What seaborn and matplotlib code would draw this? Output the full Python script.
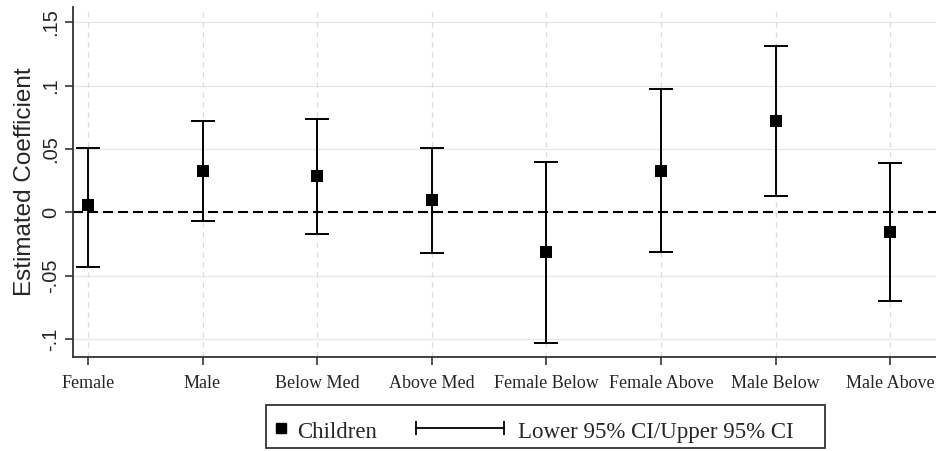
import matplotlib
matplotlib.use("Agg")
import matplotlib.pyplot as plt
import seaborn as sns
import pandas as pd
import numpy as np
from matplotlib.lines import Line2D
from matplotlib.patches import Rectangle

categories = ["Female", "Male", "Below Med", "Above Med", "Female Below",
              "Female Above", "Male Below", "Male Above"]
estimates = [0.0055, 0.033, 0.029, 0.010, -0.031, 0.033, 0.072, -0.0155]
lower_ci = [-0.043, -0.007, -0.017, -0.032, -0.103, -0.031, 0.013, -0.070]
upper_ci = [0.051, 0.072, 0.074, 0.051, 0.040, 0.097, 0.131, 0.039]
ytick_vals = [-0.1, -0.05, 0, 0.05, 0.1, 0.15]
ytick_labels = ["-.1", "-.05", "0", ".05", ".1", ".15"]
legend_labels = ["Children", "Lower 95% CI/Upper 95% CI"]

df = pd.DataFrame({"pos": np.arange(1, len(categories) + 1),
                   "cat": categories, "est": estimates,
                   "lo": lower_ci, "hi": upper_ci})

sns.set_style("white")
plt.rcParams["font.family"] = ["Liberation Sans", "DejaVu Sans"]
SERIF = ["Liberation Serif", "DejaVu Serif"]

fig = plt.figure(figsize=(9.36, 4.51), dpi=100)
ax = fig.add_axes([0.078, 0.2084, 0.922, 0.776])

ax.set_xlim(0.87, 8.40)
ax.set_ylim(-0.114, 0.162)

# grid
for v in ytick_vals:
    ax.axhline(v, color="#e6e6e6", lw=1.0, zorder=0)
for p in df["pos"]:
    ax.axvline(p, color="#d9d9d9", lw=0.9, ls=(0, (4, 4)), zorder=0)

ax.axhline(0, color="black", lw=1.5, ls=(0, (4.8, 2.4)), zorder=1)

ax.errorbar(df["pos"], df["est"],
            yerr=[df["est"] - df["lo"], df["hi"] - df["est"]],
            fmt="none", ecolor="black", elinewidth=1.4, capsize=8.5,
            capthick=1.4, zorder=2)
sns.scatterplot(data=df, x="pos", y="est", marker="s", s=70, color="black",
                edgecolor="black", linewidth=0, ax=ax, zorder=3, legend=False)

ax.set_xticks(df["pos"])
ax.set_xticklabels(categories, family=SERIF, fontsize=13)
ax.set_yticks(ytick_vals)
ax.set_yticklabels(ytick_labels, rotation=90, va="center", fontsize=14.5)
ax.set_xlabel("")
ax.set_ylabel("Estimated Coefficient", fontsize=17.5, labelpad=4)

for s in ["top", "right"]:
    ax.spines[s].set_visible(False)
for s in ["left", "bottom"]:
    ax.spines[s].set_color("#333333")
    ax.spines[s].set_linewidth(1.3)
ax.tick_params(axis="both", direction="out", length=6, width=1.2,
               color="#333333", left=True, bottom=True)
ax.tick_params(axis="y", pad=3)
ax.tick_params(axis="x", pad=7)

# legend (drawn in figure coordinates)
W, H = 936.0, 451.0
def fx(px):
    return px / W
def fy(py):
    return (H - py) / H

fig.patches.append(Rectangle((fx(266), fy(448)), fx(825) - fx(266),
                             fy(405) - fy(448), transform=fig.transFigure,
                             facecolor="white", edgecolor="#333333",
                             linewidth=1.3, figure=fig))
yc = fy(427.5)
ybase = fy(438)
fig.lines.append(Line2D([fx(280.5)], [yc], marker="s", markersize=7,
                        color="black", ls="none", transform=fig.transFigure,
                        figure=fig))
fig.text(fx(297), ybase, legend_labels[0], family=SERIF, fontsize=16.5,
         va="baseline", ha="left")
fig.lines.append(Line2D([fx(416), fx(504)], [yc, yc], color="black", lw=1.3,
                        marker="|", markersize=10, markeredgewidth=1.3,
                        transform=fig.transFigure, figure=fig))
fig.text(fx(518), ybase, legend_labels[1], family=SERIF, fontsize=16.5,
         va="baseline", ha="left")

fig.savefig("out.png", dpi=100)
